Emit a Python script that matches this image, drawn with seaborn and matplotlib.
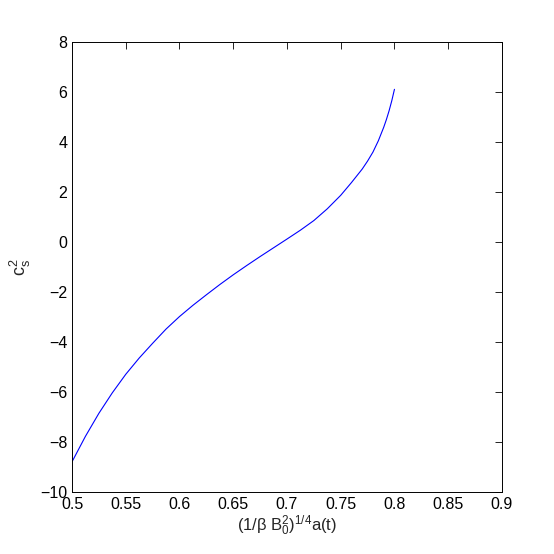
import numpy as np
import pandas as pd
import seaborn as sns
import matplotlib
matplotlib.use('Agg')
import matplotlib.pyplot as plt

# values
a_scaled = [0.5, 0.5125, 0.525, 0.5375, 0.55, 0.5625, 0.575, 0.5875, 0.6,
            0.6125, 0.625, 0.6375, 0.65, 0.6625, 0.675, 0.6875, 0.7, 0.7125,
            0.725, 0.7375, 0.75, 0.76, 0.77, 0.775, 0.78, 0.785, 0.79,
            0.7925, 0.795, 0.7975, 0.8]
cs2 = [-8.78, -7.76, -6.84, -6.02, -5.28, -4.63, -4.04, -3.47, -2.97,
       -2.52, -2.10, -1.69, -1.30, -0.93, -0.57, -0.22, 0.13, 0.485,
       0.87, 1.34, 1.88, 2.39, 2.93, 3.25, 3.61, 4.06, 4.60,
       4.91, 5.26, 5.66, 6.12]
x_ticks = [0.5, 0.55, 0.6, 0.65, 0.7, 0.75, 0.8, 0.85, 0.9]
y_ticks = [-10, -8, -6, -4, -2, 0, 2, 4, 6, 8]

df = pd.DataFrame({'a': a_scaled, 'cs2': cs2})

sns.set_style('white')
plt.rcParams['font.family'] = ['Liberation Sans', 'DejaVu Sans']
plt.rcParams['mathtext.fontset'] = 'custom'
plt.rcParams['mathtext.rm'] = 'Liberation Sans'
plt.rcParams['mathtext.it'] = 'Liberation Sans'
plt.rcParams['mathtext.bf'] = 'Liberation Sans'

fig = plt.figure(figsize=(5.54, 5.54), dpi=100)
ax = fig.add_axes([0.130, 0.1114, 0.776, 0.8122])
sns.lineplot(data=df, x='a', y='cs2', color='#0000ff', linewidth=0.8,
             estimator=None, sort=False, ax=ax)

ax.set_xlim(0.5, 0.9)
ax.set_ylim(-10, 8)
ax.set_xticks(x_ticks)
ax.set_xticklabels([f'{t:g}' for t in x_ticks])
ax.set_yticks(y_ticks)
ax.set_yticklabels([f'{t:g}'.replace('-', '\u2212') for t in y_ticks])
ax.tick_params(direction='in', top=True, right=True, length=5, width=0.6,
               labelsize=11.5, colors='black')
for s in ax.spines.values():
    s.set_linewidth(0.7)
    s.set_color('black')

ax.set_xlabel(r'$\mathrm{(1/\beta\ B_0^2)^{1/4}a(t)}$', fontsize=12)
ax.xaxis.set_label_coords(0.5, -0.048)
ax.set_ylabel(r'$\mathrm{c_s^2}$', fontsize=13)
ax.yaxis.set_label_coords(-0.09, 0.5)

fig.savefig('out.png', dpi=100, facecolor='white')
